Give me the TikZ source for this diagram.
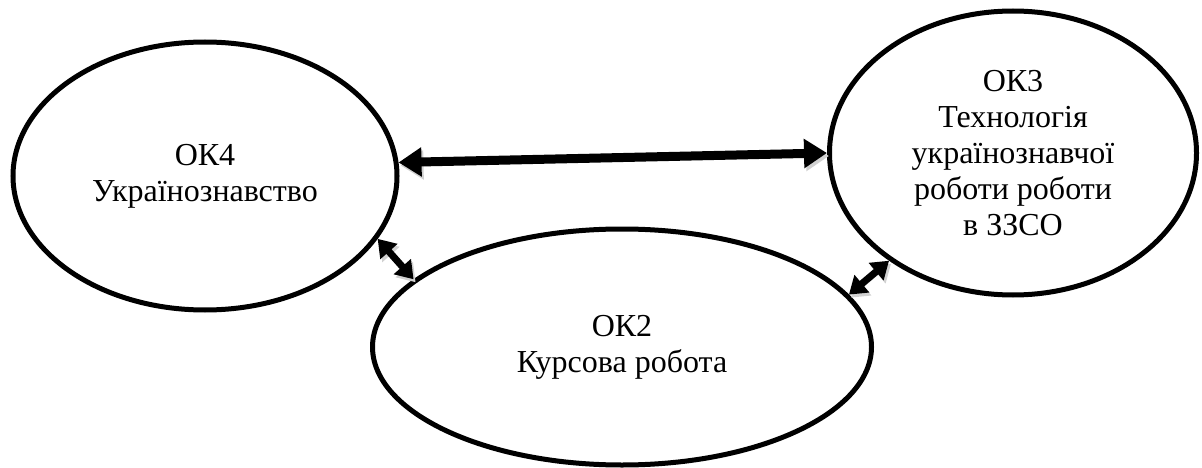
\documentclass[tikz,border=0pt]{standalone}
\usepackage{fontspec}
\setmainfont{Liberation Serif}
\usetikzlibrary{shapes.geometric, arrows.meta}

\begin{document}
\begin{tikzpicture}[x=1pt, y=-1pt,
    okellipse/.style={ellipse, draw, line width=5pt, inner sep=0pt, align=center,
      font=\fontsize{32}{36}\selectfont},
    twoway/.style={line width=#1, black,
      preaction={draw=black!18, transform canvas={xshift=2pt, yshift=-3pt}}},
    twoway/.default=7pt]
				  \useasboundingbox (0,0) rectangle (1202,468);
				  \node[okellipse, minimum width=384pt, minimum height=268pt] (ok4) at (205,176)
				    {ОК4\\Українознавство};
				  \node[okellipse, minimum width=367pt, minimum height=284pt] (ok3) at (1013,153)
				    {ОК3\\Технологія\\українознавчої\\роботи роботи\\в ЗЗСО};
				  \node[okellipse, minimum width=499pt, minimum height=236pt] (ok2) at (622,347)
				    {ОК2\\Курсова робота};
				  \draw[twoway=9pt, {Triangle[width=28pt,length=23pt]}-{Triangle[width=28pt,length=23pt]}]
				    (ok4.4) -- (ok3.180.5);
				  \draw[twoway, {Triangle[width=22pt,length=17pt]}-{Triangle[width=22pt,length=17pt]}]
				    (ok4.-20.5) -- (ok2.162.5);
				  \draw[twoway, {Triangle[width=22pt,length=17pt]}-{Triangle[width=22pt,length=17pt]}]
				    (ok2.13.5) -- (ok3.221);
				\end{tikzpicture}
\end{document}
